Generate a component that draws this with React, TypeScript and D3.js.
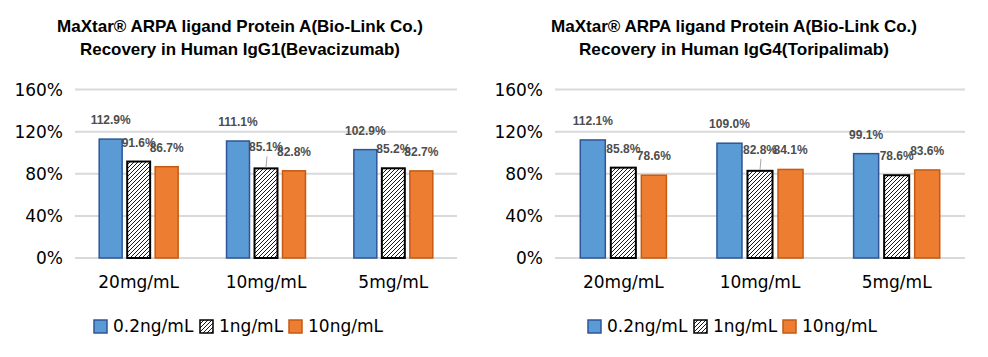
import React from "react";
import * as d3 from "d3";

const categories = ["20mg/mL", "10mg/mL", "5mg/mL"];
const seriesNames = ["0.2ng/mL", "1ng/mL", "10ng/mL"];
const igg1Values = [
  [112.9, 91.6, 86.7],
  [111.1, 85.1, 82.8],
  [102.9, 85.2, 82.7],
];
const igg4Values = [
  [112.1, 85.8, 78.6],
  [109.0, 82.8, 84.1],
  [99.1, 78.6, 83.6],
];
const yTicks = [0, 40, 80, 120, 160];
const titleLine1 = "MaXtar® ARPA ligand Protein A(Bio-Link Co.)";
const igg1Title2 = "Recovery in Human IgG1(Bevacizumab)";
const igg4Title2 = "Recovery in Human IgG4(Toripalimab)";

const FILL = ["#5B9BD5", "url(#hatch)", "#ED7D31"];
const STROKE = ["#2F5597", "#000000", "#C55A11"];
const FONT = "'DejaVu Sans', sans-serif";
const LABEL_FONT = "'Liberation Sans', Arial, sans-serif";

type ChartProps = {
  values: number[][];
  title2: string;
  plotLeft: number;
  plotRight: number;
  titleCx: number;
  legendX: number;
  paddingInner: number;
  paddingOuter: number;
  leader: [number, number];
  t1Len: number;
  t2Len: number;
};

function Chart(p: ChartProps) {
  const y = d3.scaleLinear().domain([0, 160]).range([258, 89.5]);
  const x0 = d3
    .scaleBand<string>()
    .domain(categories)
    .range([p.plotLeft, p.plotRight])
    .paddingInner(p.paddingInner)
    .paddingOuter(p.paddingOuter);
  const x1 = d3
    .scaleBand<string>()
    .domain(seriesNames)
    .range([0, x0.bandwidth()])
    .paddingInner(0.18);

  const legendItems = [
    { w: 0, label: seriesNames[0] },
    { w: 106, label: seriesNames[1] },
    { w: 195, label: seriesNames[2] },
  ];

  return (
    <g>
      <text
        x={p.titleCx}
        y={32}
        textAnchor="middle"
        fontFamily={LABEL_FONT}
        fontWeight="bold"
        fontSize={17}
        textLength={p.t1Len}
        lengthAdjust="spacingAndGlyphs"
        fill="#000"
      >
        {titleLine1}
      </text>
      <text
        x={p.titleCx}
        y={55}
        textAnchor="middle"
        fontFamily={LABEL_FONT}
        fontWeight="bold"
        fontSize={17}
        textLength={p.t2Len}
        lengthAdjust="spacingAndGlyphs"
        fill="#000"
      >
        {p.title2}
      </text>

      {yTicks.map((t) => (
        <g key={t}>
          <line
            x1={p.plotLeft}
            x2={p.plotRight}
            y1={y(t)}
            y2={y(t)}
            stroke="#D9D9D9"
            strokeWidth={2}
          />
          <text
            x={p.plotLeft - 12}
            y={y(t) + 6}
            textAnchor="end"
            fontFamily={FONT}
            fontSize={17}
            fill="#000"
          >
            {t}%
          </text>
        </g>
      ))}

      {categories.map((c, ci) => (
        <g key={c}>
          {seriesNames.map((s, si) => {
            const v = p.values[ci][si];
            const bx = (x0(c) as number) + (x1(s) as number);
            const bw = x1.bandwidth();
            return (
              <rect
                key={s}
                x={bx}
                y={y(v)}
                width={bw}
                height={y(0) - y(v)}
                fill={FILL[si]}
                stroke={STROKE[si]}
                strokeWidth={si === 1 ? 2 : 1.5}
              />
            );
          })}
          <text
            x={(x0(c) as number) + x0.bandwidth() / 2}
            y={288}
            textAnchor="middle"
            fontFamily={FONT}
            fontSize={17}
            fill="#000"
          >
            {c}
          </text>
        </g>
      ))}

      {categories.map((c, ci) =>
        seriesNames.map((s, si) => {
          const v = p.values[ci][si];
          const cx = (x0(c) as number) + (x1(s) as number) + x1.bandwidth() / 2;
          const isLeader = p.leader[0] === ci && p.leader[1] === si;
          const ly = y(v) - (isLeader ? 17 : 15);
          return (
            <g key={c + s}>
              {isLeader && (
                <line
                  x1={cx + 1}
                  x2={cx}
                  y1={ly + 5}
                  y2={y(v) - 1}
                  stroke="#A6A6A6"
                  strokeWidth={1}
                />
              )}
              <text
                x={cx}
                y={ly}
                textAnchor="middle"
                fontFamily={LABEL_FONT}
                fontWeight="bold"
                fontSize={12}
                fill="#4D4D4D"
              >
                {v.toFixed(1)}%
              </text>
            </g>
          );
        })
      )}

      {legendItems.map((it, i) => (
        <g key={it.label} transform={`translate(${p.legendX + it.w},0)`}>
          <rect
            x={0}
            y={320}
            width={13}
            height={13}
            fill={FILL[i]}
            stroke={STROKE[i]}
            strokeWidth={1.5}
          />
          <text x={19} y={332} fontFamily={FONT} fontSize={17} fill="#000">
            {it.label}
          </text>
        </g>
      ))}
    </g>
  );
}

export default function App() {
  return (
    <svg
      width={988}
      height={357}
      style={{ position: "absolute", left: 0, top: 0, display: "block", background: "#fff" }}
    >
      <defs>
        <pattern id="hatch" patternUnits="userSpaceOnUse" width={4} height={4}>
          <rect width={4} height={4} fill="#fff" />
          <path d="M-1,1 l2,-2 M0,4 l4,-4 M3,5 l2,-2" stroke="#000" strokeWidth={0.9} />
        </pattern>
      </defs>
      <Chart
        values={igg1Values}
        title2={igg1Title2}
        plotLeft={75}
        plotRight={457}
        titleCx={240}
        legendX={94}
        paddingInner={0.38}
        paddingOuter={0.19}
        leader={[1, 1]}
        t1Len={366}
        t2Len={320}
      />
      <Chart
        values={igg4Values}
        title2={igg4Title2}
        plotLeft={555}
        plotRight={965}
        titleCx={734}
        legendX={588}
        paddingInner={0.37}
        paddingOuter={0.185}
        leader={[1, 1]}
        t1Len={366}
        t2Len={310}
      />
    </svg>
  );
}
